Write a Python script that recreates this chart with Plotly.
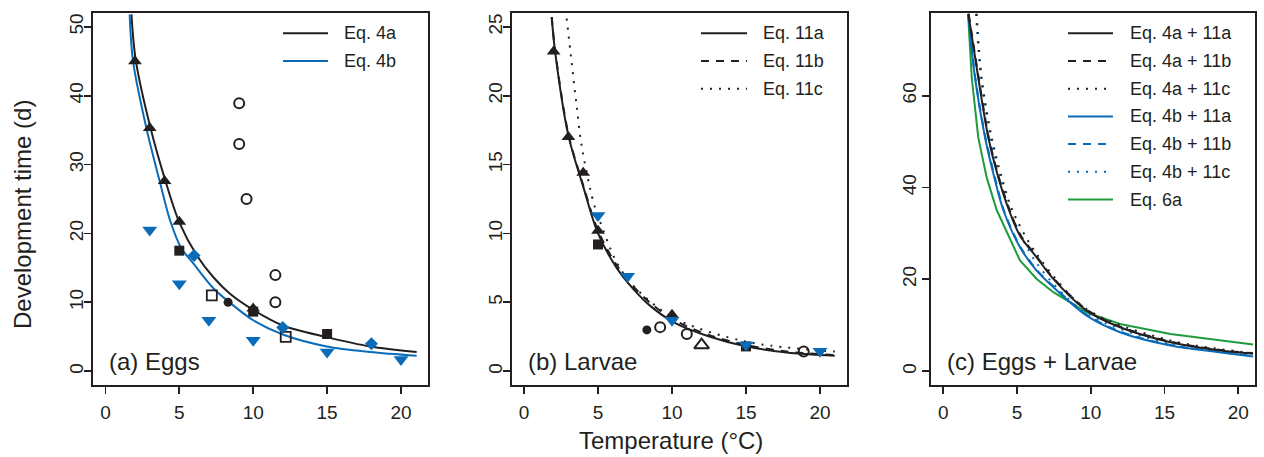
import plotly.graph_objects as go

W, H = 1264, 457
FONT = "Liberation Sans, Arial, Helvetica, sans-serif"
INK = "#231f20"
BLUE = "#0a6cb8"
GREEN = "#1e9c3c"
DASH = "8px,7px"
DOT = "2px,7px"

# ---------------- Panel (a) Eggs : observations ----------------
a_tri_x = [2, 3, 4, 5, 10]
a_tri_y = [45.0, 35.3, 27.6, 21.7, 9.1]
a_sq_x = [5, 10, 15]
a_sq_y = [17.5, 8.65, 5.4]
a_osq_x = [7.2, 12.2]
a_osq_y = [11.0, 5.0]
a_dot_x = [8.3]
a_dot_y = [10.0]
a_ocirc_x = [9.05, 9.05, 9.55, 11.5, 11.5]
a_ocirc_y = [38.9, 33.0, 25.0, 13.95, 10.0]
a_dtri_x = [3, 5, 7, 10, 15, 20]
a_dtri_y = [20.5, 12.7, 7.4, 4.5, 2.8, 1.7]
a_diam_x = [6, 12, 18]
a_diam_y = [16.8, 6.35, 4.0]

# Panel (a) fitted curves
eq4a_x = [1.76, 2.05, 3.04, 4.05, 5.0, 6.19, 7.32, 8.45, 10.0, 12.05, 14.98, 17.9, 21.06]
eq4a_y = [51.8, 45.2, 35.4, 27.7, 21.6, 16.8, 13.6, 11.2, 8.9, 6.6, 4.95, 3.6, 2.8]
eq4b_x = [1.64, 1.87, 2.77, 3.67, 4.39, 5.1, 6.0, 7.32, 8.45, 10.0, 12.05, 14.98, 17.9, 21.06]
eq4b_y = [51.8, 45.0, 35.3, 27.6, 21.8, 18.0, 15.5, 12.0, 9.9, 7.4, 5.3, 3.6, 2.8, 2.26]

# ---------------- Panel (b) Larvae : observations ----------------
b_tri_x = [2, 3, 4, 5, 10]
b_tri_y = [23.2, 17.0, 14.4, 10.2, 4.1]
b_sq_x = [5, 15]
b_sq_y = [9.2, 1.8]
b_dot_x = [8.3]
b_dot_y = [3.0]
b_ocirc_x = [9.2, 11.0, 18.9]
b_ocirc_y = [3.2, 2.7, 1.43]
b_otri_x = [12.0]
b_otri_y = [1.9]
b_dtri_x = [5, 7, 10, 15, 20]
b_dtri_y = [11.3, 6.9, 3.7, 1.9, 1.45]

eq11a_x = [1.87, 2.1, 3.0, 4.0, 5.0, 6.26, 7.39, 8.51, 10.09, 12.57, 15.04, 17.75, 21.0]
eq11a_y = [25.7, 23.2, 17.1, 13.4, 10.0, 7.5, 5.96, 4.76, 3.57, 2.50, 1.79, 1.36, 1.12]
eq11b_x = [1.87, 2.1, 3.0, 4.0, 5.0, 6.26, 7.39, 8.51, 10.09, 12.57, 15.04, 17.75, 21.0]
eq11b_y = [25.7, 23.3, 17.2, 13.5, 10.2, 7.7, 6.15, 4.98, 3.75, 2.6, 1.9, 1.43, 1.17]
eq11c_x = [2.88, 3.22, 3.56, 3.9, 4.68, 5.02, 6.26, 7.39, 10.09, 15.04, 21.0]
eq11c_y = [25.6, 22.4, 19.2, 16.3, 12.3, 11.2, 7.9, 6.2, 3.88, 2.14, 1.43]

# ---------------- Panel (c) Eggs + Larvae : combined curves ----------------
c_4a11a_x = [1.70, 2.37, 3.05, 3.73, 4.45, 5.2, 6.33, 7.46, 9.72, 11.98, 15.4, 18.8, 21.0]
c_4a11a_y = [77.8, 63.9, 50.9, 42.2, 35.1, 29.5, 24.8, 20.1, 13.2, 9.57, 6.32, 4.5, 3.8]
c_4a11b_x = [1.72, 2.4, 3.08, 3.77, 4.5, 5.2, 6.33, 7.46, 9.72, 11.98, 15.4, 18.8, 21.0]
c_4a11b_y = [77.8, 63.9, 50.9, 42.2, 35.1, 29.8, 25.0, 20.3, 13.4, 9.7, 6.45, 4.6, 3.9]
c_4a11c_x = [2.26, 2.6, 3.28, 3.96, 4.68, 6.33, 9.72, 15.4, 21.0]
c_4a11c_y = [77.8, 63.9, 50.9, 42.2, 35.1, 25.5, 13.5, 6.7, 3.95]
c_4b11a_x = [1.69, 2.15, 2.83, 3.46, 4.07, 5.2, 6.33, 7.46, 9.72, 11.98, 15.4, 18.8, 21.0]
c_4b11a_y = [77.8, 63.9, 50.9, 42.2, 35.1, 27.0, 21.9, 18.3, 12.1, 8.5, 5.6, 4.1, 3.2]
c_4b11b_x = [1.7, 2.17, 2.86, 3.5, 4.1, 5.2, 6.33, 7.46, 9.72, 11.98, 15.4, 18.8, 21.0]
c_4b11b_y = [77.8, 63.9, 50.9, 42.2, 35.1, 27.2, 22.1, 18.5, 12.3, 8.65, 5.7, 4.2, 3.3]
c_4b11c_x = [2.22, 2.55, 3.2, 3.85, 4.5, 6.33, 9.72, 15.4, 21.0]
c_4b11c_y = [77.8, 63.9, 50.9, 42.2, 35.1, 23.5, 12.6, 5.9, 3.4]
c_6a_x = [1.68, 1.93, 2.37, 2.94, 3.62, 5.2, 6.33, 7.46, 9.72, 11.98, 15.4, 18.8, 21.0]
c_6a_y = [77.8, 63.9, 50.9, 42.2, 35.1, 24.1, 20.1, 17.2, 12.8, 10.3, 8.1, 6.7, 5.8]

# tick values
x_ticks = [0, 5, 10, 15, 20]
a_yticks = [0, 10, 20, 30, 40, 50]
b_yticks = [0, 5, 10, 15, 20, 25]
c_yticks = [0, 20, 40, 60]

# legend labels
a_legend = [("Eq. 4a", INK, "solid"), ("Eq. 4b", BLUE, "solid")]
b_legend = [("Eq. 11a", INK, "solid"), ("Eq. 11b", INK, DASH), ("Eq. 11c", INK, DOT)]
c_legend = [("Eq. 4a + 11a", INK, "solid"), ("Eq. 4a + 11b", INK, DASH),
            ("Eq. 4a + 11c", INK, DOT), ("Eq. 4b + 11a", BLUE, "solid"),
            ("Eq. 4b + 11b", BLUE, DASH), ("Eq. 4b + 11c", BLUE, DOT),
            ("Eq. 6a", GREEN, "solid")]

fig = go.Figure()


def curve(x, y, ax, color, dash="solid", shape="spline", name=""):
    fig.add_trace(go.Scatter(
        x=x, y=y, xaxis="x" + ax, yaxis="y" + ax, mode="lines", name=name,
        line=dict(color=color, width=2, dash=dash, shape=shape, smoothing=0.9),
        showlegend=False, hoverinfo="skip"))


def points(x, y, ax, symbol, color, size, lw=0, name=""):
    fig.add_trace(go.Scatter(
        x=x, y=y, xaxis="x" + ax, yaxis="y" + ax, mode="markers", name=name,
        marker=dict(symbol=symbol, color=color, size=size,
                    line=dict(color=color, width=lw)),
        showlegend=False, hoverinfo="skip", cliponaxis=False))


# Panel a
curve(eq4a_x, eq4a_y, "", INK, name="Eq. 4a")
curve(eq4b_x, eq4b_y, "", BLUE, name="Eq. 4b")
points(a_tri_x, a_tri_y, "", "triangle-up", INK, 12)
points(a_sq_x, a_sq_y, "", "square", INK, 10)
points(a_osq_x, a_osq_y, "", "square-open", INK, 10, 1.8)
points(a_dot_x, a_dot_y, "", "circle", INK, 9)
points(a_ocirc_x, a_ocirc_y, "", "circle-open", INK, 10, 2)
points(a_dtri_x, a_dtri_y, "", "triangle-down", BLUE, 13)
points(a_diam_x, a_diam_y, "", "diamond", BLUE, 10)

# Panel b
curve(eq11a_x, eq11a_y, "2", INK, name="Eq. 11a")
curve(eq11b_x, eq11b_y, "2", INK, DASH, name="Eq. 11b")
curve(eq11c_x, eq11c_y, "2", INK, DOT, name="Eq. 11c")
points(b_tri_x, b_tri_y, "2", "triangle-up", INK, 12)
points(b_sq_x, b_sq_y, "2", "square", INK, 10)
points(b_dot_x, b_dot_y, "2", "circle", INK, 9)
points(b_ocirc_x, b_ocirc_y, "2", "circle-open", INK, 10, 2)
points(b_otri_x, b_otri_y, "2", "triangle-up-open", INK, 13, 2)
points(b_dtri_x, b_dtri_y, "2", "triangle-down", BLUE, 13)

# Panel c
curve(c_6a_x, c_6a_y, "3", GREEN, shape="linear", name="Eq. 6a")
curve(c_4b11a_x, c_4b11a_y, "3", BLUE, name="Eq. 4b + 11a")
curve(c_4b11b_x, c_4b11b_y, "3", BLUE, DASH, name="Eq. 4b + 11b")
curve(c_4b11c_x, c_4b11c_y, "3", BLUE, DOT, name="Eq. 4b + 11c")
curve(c_4a11a_x, c_4a11a_y, "3", INK, name="Eq. 4a + 11a")
curve(c_4a11b_x, c_4a11b_y, "3", INK, DASH, name="Eq. 4a + 11b")
curve(c_4a11c_x, c_4a11c_y, "3", INK, DOT, name="Eq. 4a + 11c")

# ---------------- layout ----------------
def fx(p):
    return p / W


def fy(p):
    return 1 - p / H


ydom = [fy(385), fy(13)]
axis_common = dict(showline=True, mirror=True, linecolor=INK, linewidth=2,
                   ticks="outside", ticklen=7, tickwidth=1.8, tickcolor=INK,
                   showgrid=False, zeroline=False,
                   tickfont=dict(family=FONT, size=19, color=INK))

layout = dict(
    width=W, height=H, autosize=False,
    margin=dict(l=0, r=0, t=0, b=0),
    paper_bgcolor="white", plot_bgcolor="white", showlegend=False,
    font=dict(family=FONT, color=INK),
)
panels = [("", [93, 428.2], [-0.84, 21.84], [-2, 52], a_yticks, -7),
          ("2", [511.6, 847.2], [-0.84, 21.84], [-1, 26], b_yticks, -7),
          ("3", [930.9, 1255], [-0.84, 21.13], [-3, 78], c_yticks, -2)]
for suf, dom, xr, yr, yt, ystand in panels:
    xa = dict(axis_common, domain=[fx(dom[0]), fx(dom[1])], range=xr,
              tickvals=x_ticks, anchor="y" + suf, ticklabelstandoff=2)
    ya = dict(axis_common, domain=ydom, range=yr, tickvals=yt,
              anchor="x" + suf, tickangle=-90, ticklabelstandoff=ystand)
    layout["xaxis" + suf] = xa
    layout["yaxis" + suf] = ya
fig.update_layout(**layout)

annotations = []
shapes = []


def text(x, y, s, size, anchor="left", angle=0):
    annotations.append(dict(x=fx(x), y=fy(y), xref="paper", yref="paper",
                            text=s, showarrow=False, xanchor=anchor,
                            yanchor="middle", textangle=angle,
                            font=dict(family=FONT, size=size, color=INK)))


def legend(entries, x0, x1, xt, y0, dy):
    for i, (lab, col, dash) in enumerate(entries):
        yy = y0 + i * dy
        shapes.append(dict(type="line", xref="paper", yref="paper",
                           x0=fx(x0), x1=fx(x1), y0=fy(yy), y1=fy(yy),
                           line=dict(color=col, width=2, dash=dash)))
        text(xt, yy, lab, 18)


legend(a_legend, 283, 328, 342, 33.3, 27.7)
legend(b_legend, 701, 747, 761, 33.3, 27.7)
legend(c_legend, 1068, 1113, 1128, 33.3, 27.7)

text(106.5, 361.5, "(a) Eggs", 24)
text(526, 361.5, "(b) Larvae", 24)
text(945, 361.5, "(c) Eggs + Larvae", 24)
text(670.5, 440, "Temperature (°C)", 24, anchor="center")
text(22, 215, "Development time (d)", 24, anchor="center", angle=-90)

fig.update_layout(annotations=annotations, shapes=shapes)
fig.write_html("out.html",
               config={"displayModeBar": False, "staticPlot": True},
               post_script="document.body.style.margin='0';"
                           "document.body.style.overflow='hidden';")
